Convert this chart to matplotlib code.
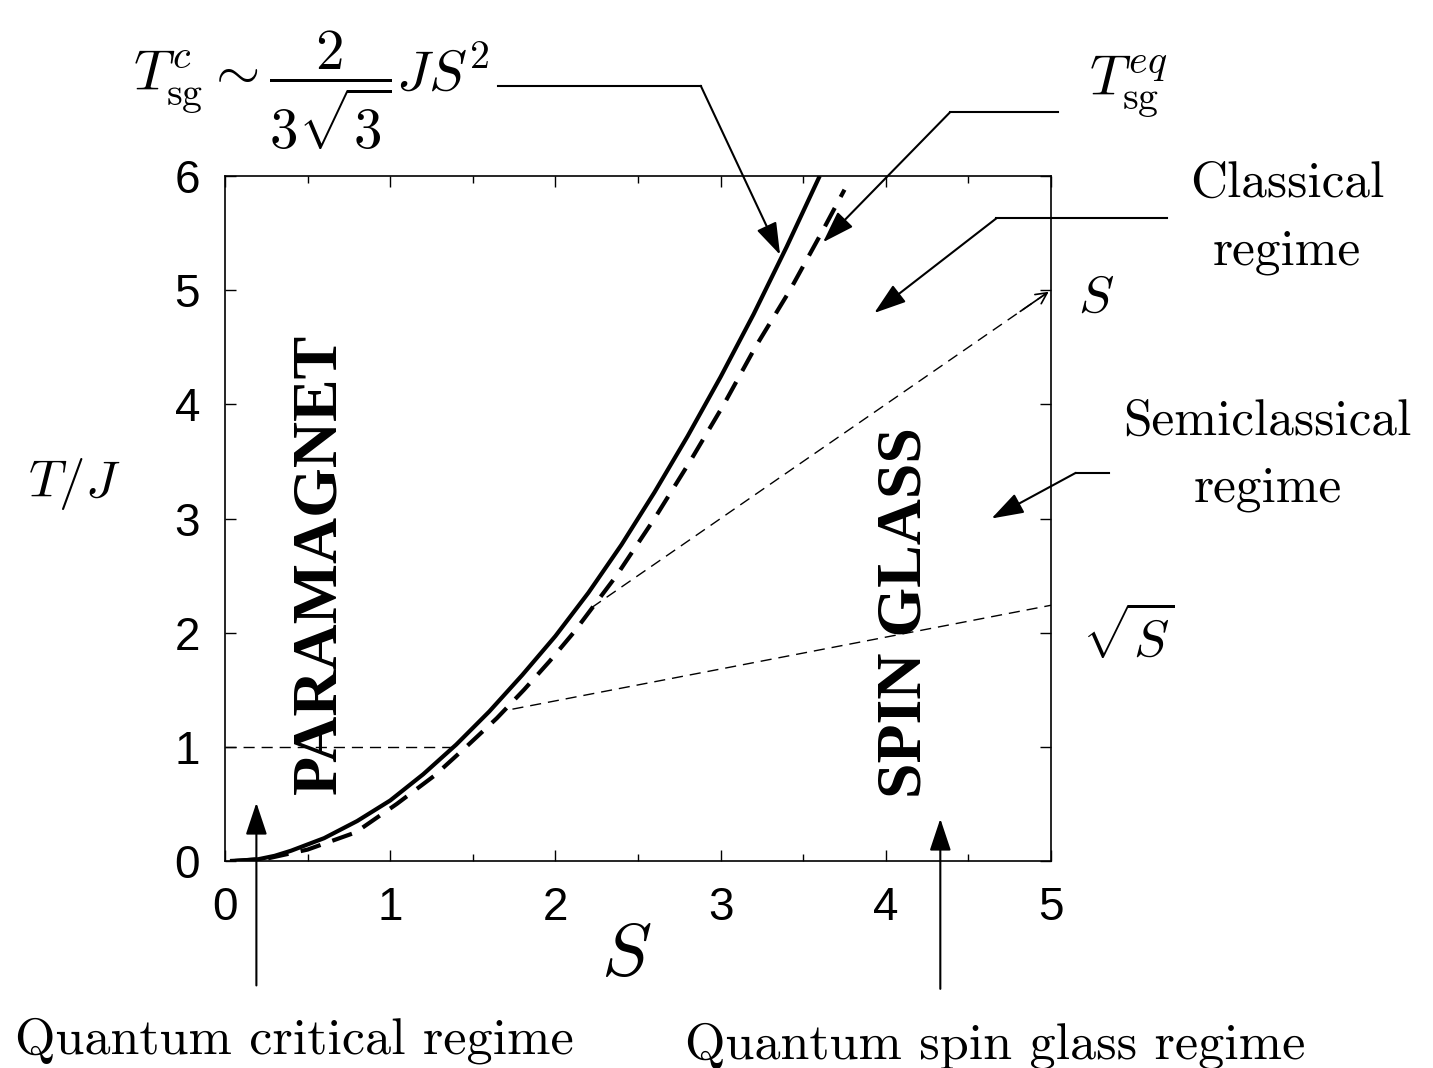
import matplotlib
matplotlib.use("Agg")
import matplotlib.pyplot as plt
from matplotlib.ticker import MultipleLocator

plt.rcParams['mathtext.fontset'] = 'cm'

# ---- data ----
S_c = [0.03, 0.1, 0.2, 0.3, 0.4, 0.6, 0.8, 1.0, 1.2, 1.4, 1.6, 1.8, 2.0, 2.2, 2.4, 2.6, 2.8, 3.0, 3.2, 3.4, 3.6]
T_c = [0.0, 0.005, 0.015, 0.045, 0.09, 0.2, 0.35, 0.53, 0.76, 1.02, 1.31, 1.63, 1.97, 2.35, 2.77, 3.23, 3.72, 4.24, 4.79, 5.38, 6.0]

S_eq = [0.06, 0.25, 0.5, 0.79, 1.04, 1.27, 1.46, 1.645, 1.81, 1.965, 2.11, 2.37, 2.6, 2.815, 3.02, 3.21, 3.42, 3.61, 3.75]
T_eq = [0.0, 0.02, 0.1, 0.25, 0.5, 0.75, 1.0, 1.25, 1.5, 1.75, 2.0, 2.5, 3.0, 3.5, 4.0, 4.5, 5.0, 5.5, 5.88]

S_one = [0.0, 1.39]
T_one = [1.0, 1.0]
S_sqrt = [1.74, 5.0]
T_sqrt = [1.33, 2.24]
S_lin = [2.22, 5.0]
T_lin = [2.22, 5.0]

xticks = [0, 1, 2, 3, 4, 5]
yticks = [0, 1, 2, 3, 4, 5, 6]

fig = plt.figure(figsize=(14.33, 10.68), dpi=100)
ax = fig.add_axes([225/1433, 1-861/1068, 826/1433, 685/1068])
ax.set_xlim(0, 5)
ax.set_ylim(0, 6)

ax.plot(S_c, T_c, color='black', lw=3.0, solid_capstyle='butt', solid_joinstyle='round')
ax.plot(S_eq, T_eq, color='black', lw=3.0, dashes=(5, 3))
ax.plot(S_one, T_one, color='black', lw=1.0, dashes=(8, 5))
ax.plot(S_sqrt, T_sqrt, color='black', lw=1.0, dashes=(8, 5))
ax.plot(S_lin, T_lin, color='black', lw=1.0, dashes=(8, 5))
ax.annotate('', xy=(S_lin[1], T_lin[1]), xytext=(S_lin[1]-0.2, T_lin[1]-0.2*(T_lin[1]-T_lin[0])/(S_lin[1]-S_lin[0])),
            arrowprops=dict(arrowstyle='->', lw=1.2, color='black', mutation_scale=20))

ax.set_xticks(xticks)
ax.set_yticks(yticks)
ax.xaxis.set_minor_locator(MultipleLocator(0.5))
ax.tick_params(which='both', direction='in', top=True, right=True)
ax.tick_params(which='major', length=8, width=1.0, labelsize=33, pad=18)
ax.tick_params(which='minor', length=5, width=1.0)
ax.tick_params(axis='y', which='minor', left=False, right=False)
for lab in ax.get_xticklabels() + ax.get_yticklabels():
    lab.set_fontfamily('Liberation Sans')
for sp in ax.spines.values():
    sp.set_linewidth(1.2)

# axis labels
ax.text(2.43, -0.82, '$S$', fontsize=54, ha='center', va='center')
ax.text(-0.91, 3.3, '$T/J$', fontsize=38, ha='center', va='center')

# region labels
ax.text(0.58, 2.6, 'PARAMAGNET', rotation=90, fontsize=46, fontweight='bold',
        fontfamily='Liberation Serif', ha='center', va='center')
ax.text(4.12, 2.18, 'SPIN GLASS', rotation=90, fontsize=46, fontweight='bold',
        fontfamily='Liberation Serif', ha='center', va='center')

# formula labels
ax.text(0.52, 6.75, r'$T_{\rm sg}^{c} \sim \dfrac{2}{3\sqrt{3}} J S^2$', fontsize=41,
        ha='center', va='center')
ax.text(5.47, 6.78, r'$T_{\rm sg}^{eq}$', fontsize=41, ha='center', va='center')

ax.text(6.43, 5.93, 'Classical', fontsize=37, fontfamily='cmr10', ha='center', va='center')
ax.text(6.43, 5.33, 'regime', fontsize=37, fontfamily='cmr10', ha='center', va='center')
ax.text(6.31, 3.85, 'Semiclassical', fontsize=37, fontfamily='cmr10', ha='center', va='center')
ax.text(6.31, 3.26, 'regime', fontsize=37, fontfamily='cmr10', ha='center', va='center')
ax.text(5.27, 4.94, '$S$', fontsize=38, ha='center', va='center')
ax.text(5.47, 1.95, r'$\sqrt{S}$', fontsize=38, ha='center', va='center')

ax.text(0.42, -1.57, 'Quantum critical regime', fontsize=37.5, fontfamily='cmr10', ha='center', va='center')
ax.text(4.66, -1.62, 'Quantum spin glass regime', fontsize=37.5, fontfamily='cmr10', ha='center', va='center')

arrow_kw = dict(arrowstyle='-|>,head_length=0.9,head_width=0.3', lw=1.5, color='black',
                mutation_scale=22, shrinkA=0, shrinkB=0)

def elbow(p0, p1, tip):
    ax.plot([p0[0], p1[0]], [p0[1], p1[1]], color='black', lw=1.5, clip_on=False)
    ax.annotate('', xy=tip, xytext=p1, arrowprops=arrow_kw, annotation_clip=False)

elbow((1.65, 6.79), (2.88, 6.79), (3.36, 5.31))
elbow((5.04, 6.56), (4.39, 6.56), (3.62, 5.42))
elbow((5.70, 5.63), (4.67, 5.63), (3.93, 4.80))
elbow((5.35, 3.40), (5.15, 3.40), (4.64, 3.00))

ax.annotate('', xy=(0.19, 0.51), xytext=(0.19, -1.09), arrowprops=arrow_kw, annotation_clip=False)
ax.annotate('', xy=(4.33, 0.37), xytext=(4.33, -1.12), arrowprops=arrow_kw, annotation_clip=False)

fig.savefig('out.png', dpi=100)
